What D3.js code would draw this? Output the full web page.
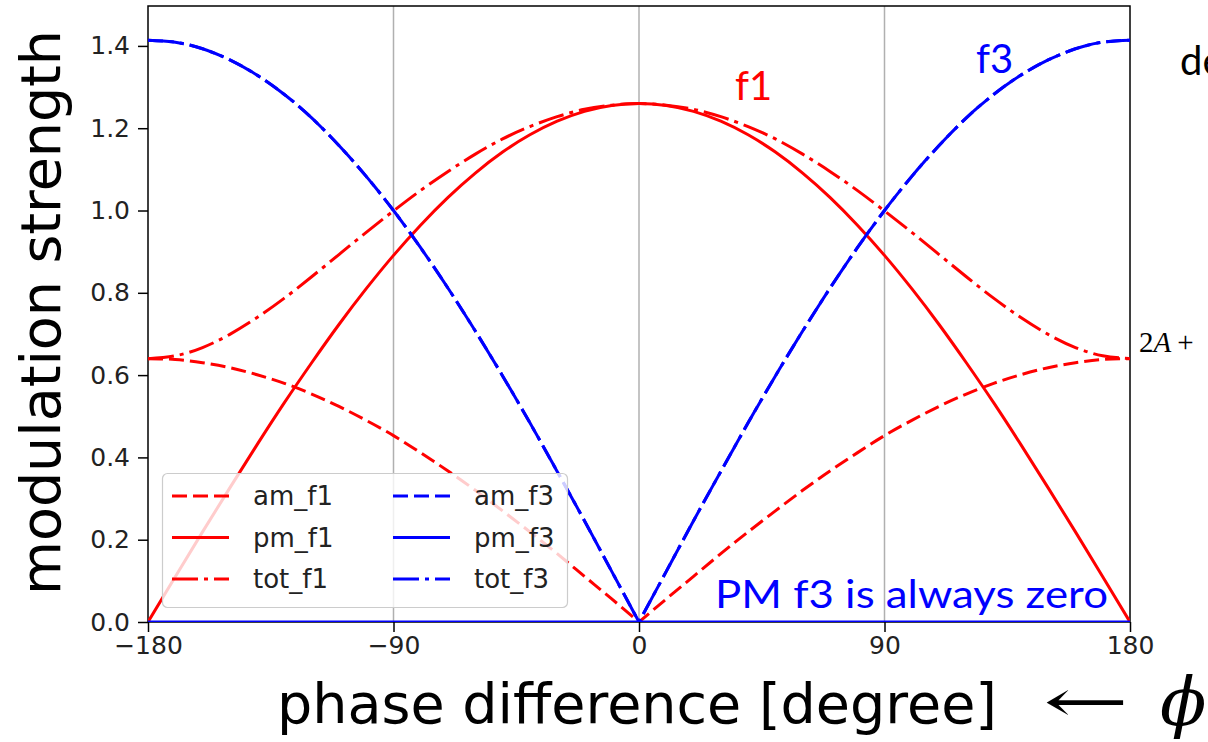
<!DOCTYPE html>
<html>
<head>
<meta charset="utf-8">
<script src="https://cdn.jsdelivr.net/npm/d3@7"></script>
<style>
  body { margin: 0; background: #fff; }
  svg { display: block; }
</style>
</head>
<body>
<div id="container"></div>
<script>
/* DATA (every 10 degrees) */
const phase = [-180,-170,-160,-150,-140,-130,-120,-110,-100,-90,-80,-70,-60,-50,-40,-30,-20,-10,
  0,10,20,30,40,50,60,70,80,90,100,110,120,130,140,150,160,170,180];

const amF1 = [0.640,0.638,0.630,0.618,0.601,0.580,0.554,0.524,0.490,0.453,0.411,0.367,0.320,0.270,0.219,0.166,0.111,0.056,
  0,0.056,0.111,0.166,0.219,0.270,0.320,0.367,0.411,0.453,0.490,0.524,0.554,0.580,0.601,0.618,0.630,0.638,0.640];

const pmF1 = [0,0.110,0.219,0.326,0.431,0.533,0.630,0.723,0.810,0.891,0.965,1.032,1.091,1.142,1.184,1.217,1.241,1.255,
  1.260,1.255,1.241,1.217,1.184,1.142,1.091,1.032,0.965,0.891,0.810,0.723,0.630,0.533,0.431,0.326,0.219,0.110,0];

const totF1 = [0.640,0.647,0.667,0.699,0.740,0.787,0.839,0.893,0.947,0.999,1.049,1.095,1.137,1.174,1.204,1.228,1.246,1.256,
  1.260,1.256,1.246,1.228,1.204,1.174,1.137,1.095,1.049,0.999,0.947,0.893,0.839,0.787,0.740,0.699,0.667,0.647,0.640];

const amF3 = [1.414,1.409,1.393,1.366,1.329,1.282,1.225,1.158,1.083,1.000,0.909,0.811,0.707,0.598,0.484,0.366,0.246,0.123,
  0,0.123,0.246,0.366,0.484,0.598,0.707,0.811,0.909,1.000,1.083,1.158,1.225,1.282,1.329,1.366,1.393,1.409,1.414];

const pmF3 = phase.map(() => 0);   // PM f3 is always zero

const totF3 = [1.414,1.409,1.393,1.366,1.329,1.282,1.225,1.158,1.083,1.000,0.909,0.811,0.707,0.598,0.484,0.366,0.246,0.123,
  0,0.123,0.246,0.366,0.484,0.598,0.707,0.811,0.909,1.000,1.083,1.158,1.225,1.282,1.329,1.366,1.393,1.409,1.414];

const xTicks = [-180, -90, 0, 90, 180];
const yTicks = [0, 0.2, 0.4, 0.6, 0.8, 1.0, 1.2, 1.4];

/* CONSTANTS */
const width = 1208, height = 742;
const margin = {top: 6, right: 78, bottom: 120, left: 148};
const yMax = 1.497;
const RED = "#ff0000", BLUE = "#0000ff";
const DASH = "15,6", DASHDOT = "26,6,4,6";

const series = [
  {name: "am_f1", values: amF1, color: RED,  dash: DASH,    vee: true},
  {name: "pm_f1", values: pmF1, color: RED,  dash: null},
  {name: "tot_f1", values: totF1, color: RED, dash: DASHDOT},
  {name: "am_f3", values: amF3, color: BLUE, dash: DASH,    vee: true},
  {name: "pm_f3", values: pmF3, color: BLUE, dash: null},
  {name: "tot_f3", values: totF3, color: BLUE, dash: DASHDOT, vee: true}
];

/* SCALES */
const xScale = d3.scaleLinear()
  .domain([-180, 180])
  .range([margin.left, width - margin.right]);

const yScale = d3.scaleLinear()
  .domain([0, yMax])
  .range([height - margin.bottom, margin.top]);

/* SVG */
const svg = d3.select("#container")
  .append("svg")
  .attr("width", width)
  .attr("height", height);

svg.append("defs").append("clipPath")
  .attr("id", "plot-clip")
  .append("rect")
  .attr("x", margin.left)
  .attr("y", margin.top)
  .attr("width", xScale(180) - xScale(-180))
  .attr("height", yScale(0) - yScale(yMax));

// vertical grid
svg.append("g")
  .selectAll("line")
  .data([-90, 0, 90])
  .join("line")
  .attr("x1", d => xScale(d)).attr("x2", d => xScale(d))
  .attr("y1", yScale(yMax)).attr("y2", yScale(0))
  .attr("stroke", "#b0b0b0")
  .attr("stroke-width", 1.5);

// spines (under the lines so the zero line stays blue)
svg.append("rect")
  .attr("x", xScale(-180))
  .attr("y", yScale(yMax))
  .attr("width", xScale(180) - xScale(-180))
  .attr("height", yScale(0) - yScale(yMax))
  .attr("fill", "none")
  .attr("stroke", "#000")
  .attr("stroke-width", 1.5);

/* LINES */
const lineGen = d3.line()
  .x(d => xScale(d[0]))
  .y(d => yScale(d[1]))
  .curve(d3.curveNatural);

function pathFor(s) {
  const pts = phase.map((p, i) => [p, s.values[i]]);
  if (!s.vee) return lineGen(pts);
  // sharp corner at 0: draw both halves as one path
  const mid = phase.indexOf(0);
  return lineGen(pts.slice(0, mid + 1)) + lineGen(pts.slice(mid)).replace(/^M/, "L");
}

svg.append("g")
  .attr("clip-path", "url(#plot-clip)")
  .selectAll("path.line")
  .data(series)
  .join("path")
  .attr("class", "line")
  .attr("fill", "none")
  .attr("stroke", d => d.color)
  .attr("stroke-width", 3)
  .attr("stroke-dasharray", d => d.dash)
  .attr("d", d => pathFor(d));

/* AXES */
const tickFont = "DejaVu Sans, sans-serif";

const xAxis = d3.axisBottom(xScale)
  .tickValues(xTicks)
  .tickSize(10)
  .tickPadding(4)
  .tickFormat(d => d < 0 ? "\u2212" + Math.abs(d) : d);

const gx = svg.append("g")
  .attr("transform", `translate(0,${yScale(0)})`)
  .call(xAxis);

const yAxis = d3.axisLeft(yScale)
  .tickValues(yTicks)
  .tickSize(10)
  .tickPadding(8)
  .tickFormat(d3.format(".1f"));

const gy = svg.append("g")
  .attr("transform", `translate(${margin.left},0)`)
  .call(yAxis);

[gx, gy].forEach(g => {
  g.select(".domain").remove();
  g.selectAll(".tick line").attr("stroke", "#000").attr("stroke-width", 1.5);
  g.selectAll(".tick text")
    .style("font-family", tickFont)
    .style("font-size", "25px")
    .attr("fill", "#222");
});

/* AXIS LABELS */
svg.append("text")
  .attr("x", 277)
  .attr("y", 723)
  .attr("textLength", 720)
  .attr("lengthAdjust", "spacingAndGlyphs")
  .style("font-family", tickFont)
  .style("font-size", "56px")
  .text("phase difference [degree]");

svg.append("text")
  .attr("transform", "translate(60,595) rotate(-90)")
  .attr("textLength", 565)
  .attr("lengthAdjust", "spacingAndGlyphs")
  .style("font-family", tickFont)
  .style("font-size", "56px")
  .text("modulation strength");

// "<- phi"
svg.append("text")
  .attr("x", 1043)
  .attr("y", 722)
  .attr("textLength", 86)
  .attr("lengthAdjust", "spacingAndGlyphs")
  .style("font-family", "DejaVu Serif, serif")
  .style("font-size", "60px")
  .text("\u2190");

svg.append("text")
  .attr("x", 1160)
  .attr("y", 725)
  .style("font-family", "DejaVu Serif, serif")
  .style("font-style", "italic")
  .style("font-size", "68px")
  .text("\u03D5");

/* LEGEND */
const legend = svg.append("g");
legend.append("rect")
  .attr("x", 162.5).attr("y", 473.5)
  .attr("width", 405).attr("height", 134)
  .attr("rx", 5)
  .attr("fill", "#fff").attr("fill-opacity", 0.8)
  .attr("stroke", "#cccccc").attr("stroke-width", 1.2);

const legItems = legend.selectAll("g.item")
  .data(series)
  .join("g")
  .attr("class", "item")
  .attr("transform", (d, i) => `translate(${i < 3 ? 172 : 393},${496 + (i % 3) * 41.5})`);

legItems.append("line")
  .attr("x1", 0).attr("x2", 57)
  .attr("stroke", d => d.color)
  .attr("stroke-width", 3)
  .attr("stroke-dasharray", d => d.dash);

legItems.append("text")
  .attr("x", 81)
  .attr("y", 9)
  .style("font-family", tickFont)
  .style("font-size", "26px")
  .attr("fill", "#222")
  .text(d => d.name);

/* ANNOTATIONS */
const noteFont = "Lato, 'Open Sans', sans-serif";

svg.append("text")
  .attr("x", 735).attr("y", 100)
  .attr("fill", RED)
  .style("font-family", noteFont)
  .style("font-size", "40px")
  .text("f1");

svg.append("text")
  .attr("x", 976).attr("y", 73)
  .attr("fill", BLUE)
  .style("font-family", noteFont)
  .style("font-size", "40px")
  .text("f3");

svg.append("text")
  .attr("x", 1180).attr("y", 75)
  .attr("fill", "#000")
  .style("font-family", noteFont)
  .style("font-size", "40px")
  .text("de");

svg.append("text")
  .attr("x", 715).attr("y", 608)
  .attr("textLength", 393)
  .attr("lengthAdjust", "spacingAndGlyphs")
  .attr("fill", BLUE)
  .style("font-family", noteFont)
  .style("font-size", "38px")
  .text("PM f3 is always zero");

const formula = svg.append("text")
  .attr("x", 1139).attr("y", 352)
  .style("font-family", "'Liberation Serif', 'DejaVu Serif', serif")
  .style("font-size", "29px");
formula.append("tspan").text("2");
formula.append("tspan").style("font-style", "italic").text("A");
formula.append("tspan").attr("dx", 6).text("+");
</script>
</body>
</html>
